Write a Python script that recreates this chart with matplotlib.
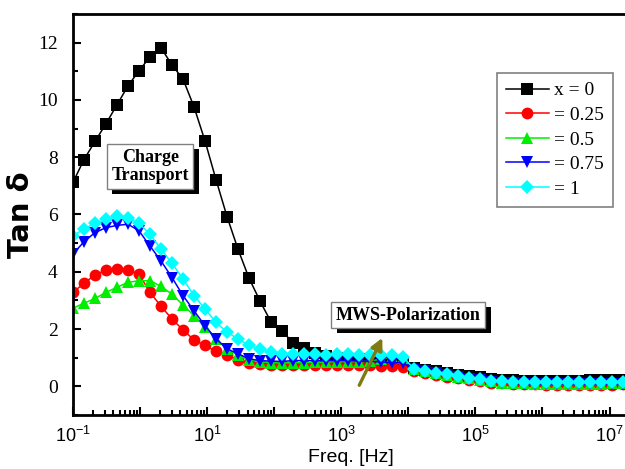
import numpy as np
import matplotlib
matplotlib.use('Agg')
import matplotlib.pyplot as plt
import matplotlib.patheffects as pe
from matplotlib.ticker import LogLocator, FixedLocator, MultipleLocator, FuncFormatter

# log10 of the measuring frequency (Hz)
log_freq = [-1.000, -0.836, -0.672, -0.508, -0.344, -0.180, -0.016, 0.148, 0.312, 0.476,
            0.640, 0.804, 0.968, 1.132, 1.296, 1.460, 1.624, 1.788, 1.952, 2.116,
            2.280, 2.444, 2.608, 2.772, 2.936, 3.100, 3.264, 3.428, 3.592, 3.756,
            3.920, 4.084, 4.248, 4.412, 4.576, 4.740, 4.904, 5.068, 5.232, 5.396,
            5.560, 5.724, 5.888, 6.052, 6.216, 6.380, 6.544, 6.708, 6.872, 7.036, 7.200]

tan_x0 = [7.12, 7.92, 8.55, 9.17, 9.83, 10.49, 11.02, 11.50, 11.82, 11.22,
          10.73, 9.76, 8.57, 7.22, 5.93, 4.79, 3.78, 2.98, 2.25, 1.94,
          1.52, 1.35, 1.17, 1.05, 1.00, 0.97, 0.95, 0.93, 0.92, 0.90,
          0.85, 0.64, 0.58, 0.52, 0.46, 0.41, 0.36, 0.31, 0.26, 0.22,
          0.21, 0.20, 0.20, 0.20, 0.20, 0.20, 0.20, 0.21, 0.21, 0.22, 0.23]
tan_x025 = [3.28, 3.60, 3.89, 4.06, 4.10, 4.06, 3.92, 3.28, 2.80, 2.35,
            1.97, 1.62, 1.43, 1.22, 1.08, 0.93, 0.83, 0.78, 0.76, 0.75,
            0.75, 0.75, 0.76, 0.76, 0.76, 0.75, 0.75, 0.74, 0.72, 0.70,
            0.68, 0.52, 0.46, 0.40, 0.34, 0.28, 0.22, 0.17, 0.13, 0.10,
            0.08, 0.07, 0.07, 0.06, 0.06, 0.06, 0.06, 0.06, 0.06, 0.06, 0.07]
tan_x05 = [2.73, 2.90, 3.07, 3.28, 3.46, 3.63, 3.69, 3.69, 3.49, 3.22,
           2.84, 2.47, 2.07, 1.66, 1.31, 1.08, 0.93, 0.86, 0.83, 0.82,
           0.82, 0.83, 0.84, 0.85, 0.86, 0.86, 0.86, 0.88, 0.95, 1.02,
           1.00, 0.60, 0.53, 0.46, 0.40, 0.34, 0.28, 0.22, 0.17, 0.13,
           0.11, 0.10, 0.09, 0.09, 0.09, 0.09, 0.09, 0.09, 0.09, 0.10, 0.10]
tan_x075 = [4.62, 5.05, 5.37, 5.54, 5.62, 5.66, 5.43, 4.90, 4.38, 3.80,
            3.17, 2.64, 2.12, 1.66, 1.31, 1.14, 0.96, 0.90, 0.88, 0.87,
            0.90, 0.90, 0.90, 0.90, 0.90, 0.90, 0.88, 0.88, 0.85, 0.83,
            0.82, 0.58, 0.52, 0.45, 0.39, 0.33, 0.27, 0.21, 0.16, 0.12,
            0.10, 0.09, 0.08, 0.08, 0.08, 0.08, 0.08, 0.08, 0.08, 0.08, 0.09]
tan_x1 = [5.25, 5.50, 5.69, 5.83, 5.95, 5.89, 5.69, 5.31, 4.79, 4.30,
          3.75, 3.17, 2.70, 2.24, 1.89, 1.66, 1.43, 1.31, 1.20, 1.12,
          1.12, 1.12, 1.12, 1.10, 1.12, 1.12, 1.10, 1.10, 1.10, 1.08,
          1.02, 0.62, 0.55, 0.48, 0.42, 0.36, 0.30, 0.25, 0.20, 0.17,
          0.16, 0.15, 0.15, 0.15, 0.15, 0.15, 0.15, 0.15, 0.15, 0.15, 0.16]

labels = ['x = 0', '= 0.25', '= 0.5', '= 0.75', '= 1']
series = [tan_x0, tan_x025, tan_x05, tan_x075, tan_x1]
colors = ['black', '#ff0000', '#00ee00', '#0000ff', '#00ffff']
markers = ['s', 'o', '^', 'v', 'D']
msizes = [8, 8.5, 8.5, 8.5, 7.5]

freq = 10 ** np.array(log_freq)

fig = plt.figure(figsize=(6.25, 4.69), dpi=100)
ax = fig.add_axes([73 / 625, 54 / 469, 556 / 625, 401 / 469])

for y, c, m, ms, lab in zip(series, colors, markers, msizes, labels):
    ax.plot(freq, y, color=c, marker=m, markersize=ms, markeredgewidth=0,
            linewidth=1.1, label=lab)

ax.set_xscale('log')
ax.set_xlim(0.1, 10 ** 7.29)
ax.set_ylim(-1, 13)

ax.xaxis.set_major_locator(FixedLocator(10.0 ** np.arange(-1, 8)))
ax.xaxis.set_minor_locator(LogLocator(base=10, subs=np.arange(2, 10), numticks=20))


def xfmt(v, pos):
    e = int(round(np.log10(v)))
    return r'$\mathregular{10^{%d}}$' % e if e % 2 != 0 else ''


ax.xaxis.set_major_formatter(FuncFormatter(xfmt))
ax.yaxis.set_major_locator(FixedLocator([0, 2, 4, 6, 8, 10, 12]))
ax.yaxis.set_minor_locator(MultipleLocator(1))

ax.tick_params(which='both', direction='in', top=False, right=False, width=1.5)
ax.tick_params(which='major', length=6)
ax.tick_params(which='minor', length=3.5)
ax.tick_params(axis='x', labelsize=13, pad=8)
for t in ax.get_xticklabels():
    t.set_family('Liberation Sans')
ax.tick_params(axis='y', labelsize=14, pad=11)
for t in ax.get_yticklabels():
    t.set_family('Liberation Serif')

for s in ax.spines.values():
    s.set_linewidth(2.0)

ax.set_xlabel('Freq. [Hz]', fontsize=14, family='Liberation Sans', labelpad=2)
ax.set_ylabel('Tan δ', fontsize=21, fontweight='bold', family='DejaVu Sans', labelpad=2)

leg = ax.legend(loc='upper left', bbox_to_anchor=(424 / 556, 1 - 59 / 401),
                prop={'family': 'Liberation Serif', 'size': 14}, numpoints=1,
                handlelength=2.2, handletextpad=0.3, labelspacing=0.36,
                borderpad=0.45, borderaxespad=0, fancybox=False, framealpha=1)
leg.get_frame().set_edgecolor('#808080')
leg.get_frame().set_linewidth(1.2)


def shadow_box(x, y, txt):
    t = ax.text(x, y, txt, ha='center', va='center', fontsize=13, fontweight='bold',
                family='Liberation Serif', linespacing=1.1,
                bbox=dict(boxstyle='square,pad=0.25', fc='white', ec='#808080', lw=1))
    t.get_bbox_patch().set_path_effects([
        pe.SimplePatchShadow(offset=(3.8, -3.8), shadow_rgbFace='black', alpha=1),
        pe.Normal()])


shadow_box(10 ** 0.15, 7.68, 'Charge\nTransport')
shadow_box(10 ** 4.0, 2.49, 'MWS-Polarization')

ax.annotate('', xy=(10 ** 3.63, 1.78), xytext=(10 ** 3.25, -0.05),
            arrowprops=dict(arrowstyle='-|>,head_length=0.7,head_width=0.35',
                            color='#7f7a12', lw=2.4))

fig.savefig('out.png', dpi=100)
